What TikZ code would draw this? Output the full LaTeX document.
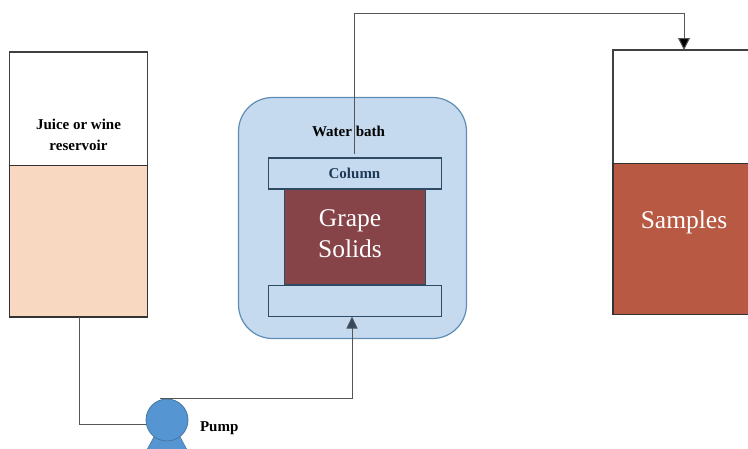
\documentclass[tikz,border=0pt]{standalone}
\usepackage{fontspec}
\setmainfont{Liberation Serif}
\usetikzlibrary{arrows.meta,calc}
\definecolor{bathfill}{HTML}{C5DAEF}
\definecolor{bathline}{HTML}{5F8DB5}
\definecolor{coledge}{HTML}{2F4A63}
\definecolor{coltext}{HTML}{1F3A58}
\definecolor{peach}{HTML}{F8D8C1}
\definecolor{grape}{HTML}{864448}
\definecolor{sample}{HTML}{B85944}
\definecolor{pumpfill}{HTML}{5596D2}
\definecolor{pumpline}{HTML}{45779F}
\definecolor{wire}{HTML}{555555}
\tikzset{
  box/.style={draw=#1,line width=1.2pt,inner sep=0pt,outer sep=0pt,anchor=north west},
  wirel/.style={draw=wire,line width=1pt},
  lab/.style={font=\bfseries\fontsize{15}{21}\selectfont,align=center,text=black},
  big/.style={font=\fontsize{25.5}{31}\selectfont,align=center,text=white}
}
\begin{document}
\begin{tikzpicture}[x=1pt,y=-1pt]
\useasboundingbox (0,0) rectangle (748,448);
\clip (0,0) rectangle (748,448);
% left tank
\node[box=black!75,minimum width=138pt,minimum height=114pt] (restop) at (9.5,52) {};
\node[box=black!80,fill=peach,minimum width=138pt,minimum height=151.5pt] (resbot) at (9.5,165.5) {};
\node[lab] (reslab) at (78.5,135) {Juice or wine\\reservoir};
% water bath
\node[box=bathline,fill=bathfill,rounded corners=34pt,minimum width=228pt,minimum height=241pt] (bath) at (238.5,97.5) {};
\node[lab] (bathlab) at (348.5,131.5) {Water bath};
\node[box=coledge,fill=bathfill,minimum width=173pt,minimum height=31pt] (coltop) at (268.5,158) {};
\node[lab,text=coltext] (collab) at (354.5,173.5) {Column};
\node[box=coledge,fill=grape,minimum width=141pt,minimum height=96pt] (solids) at (284.5,189) {};
\node[big] (solidlab) at (350,233.5) {Grape\\Solids};
\node[box=coledge,fill=bathfill,minimum width=173pt,minimum height=31pt] (colbot) at (268.5,285.5) {};
% right tank
\node[box=black!75,minimum width=150pt,minimum height=114pt] (samptop) at (613,50) {};
\node[box=black!80,fill=sample,minimum width=150pt,minimum height=151pt] (sampbot) at (613,163.5) {};
\node[big] (samplab) at (684,222.5) {Samples};
% pump
\coordinate (pumpapex) at (167,413);
\path[fill=pumpfill,draw=pumpline,line width=0.6pt] (pumpapex) -- (198,470) -- (136,470) -- cycle;
\node[circle,fill=pumpfill,draw=pumpline,line width=0.8pt,minimum size=42pt,inner sep=0pt,outer sep=0pt] (pump) at (167,420) {};
\node[lab,anchor=west] (pumplab) at (196.5,428) {Pump};
% connectors
\coordinate (outstart) at (354,154);
\coordinate (outtop) at (354,13);
\coordinate (outright) at (684,13);
\coordinate (infeed) at (79,316.5);
\coordinate (incorner) at (79,424);
\coordinate (pumptop) at (160,398.5);
\coordinate (feedcorner) at (352,398.5);
\draw[wirel] (outstart) -- (outtop) -- (outright);
\draw[wirel,-{Triangle[width=12pt,length=12pt,fill=black]}] (outright) -- (outright |- samptop.north);
\draw[wirel] (infeed) -- (incorner) -- (pump.west |- incorner);
\draw[wirel] (pumptop) -- (feedcorner);
\draw[wirel,-{Triangle[width=11pt,length=12pt,fill=coledge]}] (feedcorner) -- (feedcorner |- colbot.south);
\end{tikzpicture}
\end{document}
